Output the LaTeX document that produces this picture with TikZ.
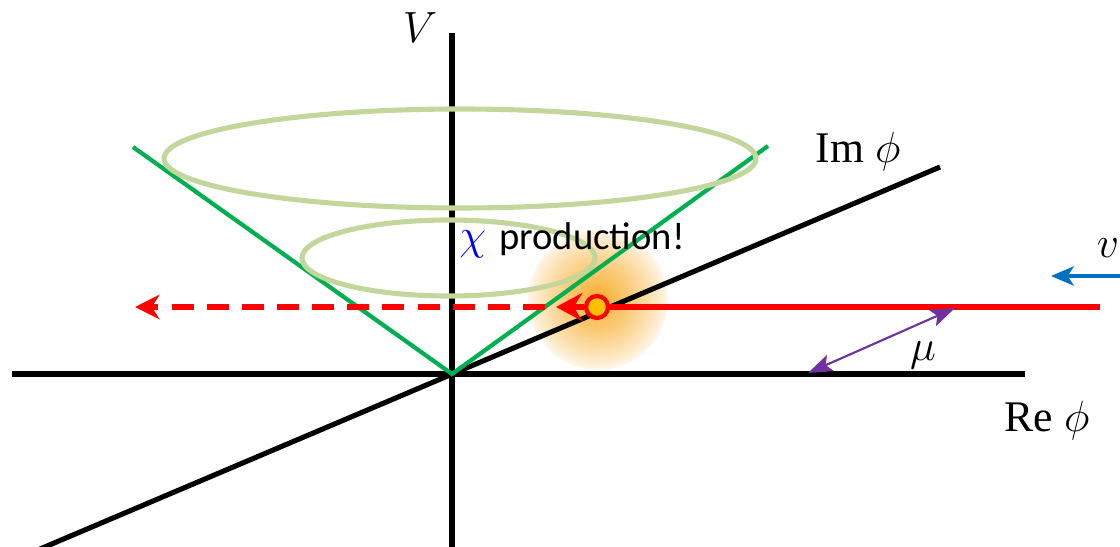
\documentclass[tikz,border=0pt]{standalone}
\usepackage{fontspec}
\newfontfamily\carlito{Carlito}
\newfontfamily\serifrm{Liberation Serif}
\usetikzlibrary{arrows.meta}
\definecolor{conegreen}{RGB}{0,176,80}
\definecolor{ringgreen}{RGB}{195,214,155}
\definecolor{glowc}{RGB}{248,172,40}
\definecolor{srcfill}{RGB}{255,192,0}
\definecolor{vblue}{RGB}{0,112,192}
\definecolor{purp}{RGB}{112,48,160}
\definecolor{chiblue}{RGB}{0,0,255}
\begin{document}
\begin{tikzpicture}[x=0.02cm,y=-0.02cm,
  axisline/.style={line width=2.9pt, black},
  coneline/.style={line width=2.4pt, conegreen},
  ringline/.style={line width=2.9pt, ringgreen},
  redline/.style={line width=2.9pt, red},
  lbl/.style={inner sep=0pt, font=\fontsize{24.88}{30}\selectfont},
]
\useasboundingbox (0,0) rectangle (1120,547);

% glow
\foreach \gi in {0,...,39}{
  \pgfmathsetmacro\grad{70*(1-\gi/40)}
  \pgfmathtruncatemacro\gpct{10+90*(\gi/40)^0.85}
  \fill[glowc!\gpct!white] (598,300) circle (\grad);
}

% coordinates
\coordinate (O) at (452,374);
\coordinate (Vtop) at (452,33);
\coordinate (Vbot) at (452,547);
\coordinate (Rl) at (12,374);
\coordinate (Rr) at (1025,374);
\coordinate (Il) at (40,549);
\coordinate (Ir) at (940,167);
\coordinate (Cl) at (133,147);
\coordinate (Cr) at (768,146);

% axes
\draw[axisline] (Vbot) -- (Vtop);
\draw[axisline] (Rl) -- (Rr);
\draw[axisline] (Il) -- (Ir);

% cone
\draw[coneline] (Cl) -- (O) -- (Cr);

% rings
\draw[ringline] (460,158.5) ellipse [x radius=296, y radius=49.5];
\draw[ringline] (448.5,258) ellipse [x radius=146.5, y radius=38];

% red path
\node[circle, draw=red, fill=srcfill, line width=2.4pt, minimum size=12.5pt, inner sep=0pt] (src) at (597,307) {};
\coordinate (redEnd) at (1100,307);
\coordinate (tipA) at (556,307);
\coordinate (dashStart) at (545,307);
\coordinate (dashEnd) at (135,307);
\draw[redline] (src.east) -- (redEnd);
\draw[redline, -{Stealth[length=15pt,width=16pt,inset=5pt]}] (src.west) -- (tipA);
\draw[redline, dash pattern=on 12.5pt off 7.5pt, -{Stealth[length=14pt,width=14pt,inset=4.5pt]}] (dashStart) -- (dashEnd);

% blue arrow
\coordinate (vStart) at (1125,276);
\coordinate (vEnd) at (1051,276);
\draw[line width=1.8pt, vblue, -{Stealth[length=13pt,width=11pt,inset=3.5pt]}] (vStart) -- (vEnd);

% purple arrow
\coordinate (muA) at (808,373);
\coordinate (muB) at (955,308);
\draw[line width=1.2pt, purp, {Stealth[length=14pt,width=10pt,inset=3pt]}-{Stealth[length=14pt,width=10pt,inset=3pt]}] (muA) -- (muB);

% labels
\node[lbl, anchor=base] (Vlab) at (420,43) {$V$};
\node[lbl, anchor=base] (ImLab) at (858,163) {\serifrm Im $\phi$};
\node[lbl, anchor=base] (ReLab) at (1047,432) {\serifrm Re $\phi$};
\node[lbl, anchor=base] (muLab) at (923,361) {$\mu$};
\node[lbl, anchor=base] (vLab) at (1108,258) {$v$};
\node[lbl, anchor=base west] (chiLab) at (459,250) {\textcolor{chiblue}{$\chi$} {\carlito\fontsize{22}{26}\selectfont production!}};
\end{tikzpicture}
\end{document}
